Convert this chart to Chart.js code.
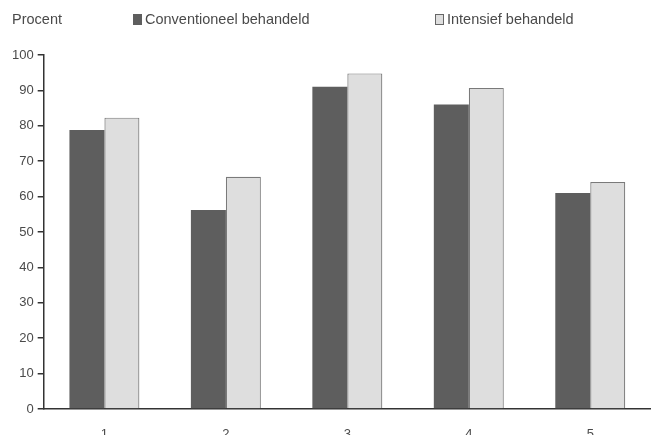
<!DOCTYPE html>
<html>
<head>
<meta charset="utf-8">
<script src="https://cdn.jsdelivr.net/npm/chart.js@4"></script>
<style>
  html, body { margin: 0; padding: 0; background: #fff; overflow: hidden; }
  canvas { display: block; }
</style>
</head>
<body>
<canvas id="barChart" width="651" height="435"></canvas>
<script>
// Categories along the x axis
const categories = ['1', '2', '3', '4', '5'];

// Series values (percent)
const conventioneel = [78.8, 56.2, 91.0, 86.0, 61.0];
const intensief = [82.3, 65.6, 94.8, 90.7, 64.1];

// Series names
const seriesNames = ['Conventioneel behandeld', 'Intensief behandeld'];

// Y axis ticks
const yTicks = [0, 10, 20, 30, 40, 50, 60, 70, 80, 90, 100];
const yUnitLabel = 'Procent';

const textColor = '#4a4a4a';
const fontFamily = '"Liberation Sans", Arial, sans-serif';

// Draws "Procent" and the legend boxes across the top
const topLegend = {
    id: 'topLegend',
    afterDraw(chart) {
        const ctx = chart.ctx;
        ctx.save();
        ctx.font = '14.5px ' + fontFamily;
        ctx.fillStyle = textColor;
        ctx.textBaseline = 'middle';
        ctx.fillText(yUnitLabel, 12, 20);

        const spots = [133, 435];
        chart.data.datasets.forEach((ds, i) => {
            const x = spots[i];
            ctx.fillStyle = ds.backgroundColor;
            ctx.strokeStyle = '#666';
            ctx.lineWidth = 1;
            ctx.fillRect(x, 14, 9, 11);
            if (i === 1) ctx.strokeRect(x + 0.5, 14.5, 8, 10);
            ctx.fillStyle = textColor;
            ctx.fillText(ds.label, x + 12, 20);
        });
        ctx.restore();
    }
};

new Chart(document.getElementById('barChart'), {
    type: 'bar',
    data: {
        labels: categories,
        datasets: [
            {
                label: seriesNames[0],
                data: conventioneel,
                backgroundColor: '#5e5e5e',
                borderColor: '#555555',
                borderWidth: 0
            },
            {
                label: seriesNames[1],
                data: intensief,
                backgroundColor: '#dedede',
                borderColor: '#7a7a7a',
                borderWidth: 1.2
            }
        ]
    },
    options: {
        responsive: false,
        animation: false,
        layout: {
            padding: { top: 55, right: 0, left: 8, bottom: 0 }
        },
        plugins: {
            legend: { display: false },
            tooltip: { enabled: false }
        },
        datasets: {
            bar: {
                barPercentage: 1.0,
                categoryPercentage: 0.576
            }
        },
        scales: {
            x: {
                grid: { display: false, drawTicks: false },
                border: { color: '#333', width: 1.5 },
                ticks: {
                    color: textColor,
                    padding: 18,
                    font: { size: 13, family: fontFamily }
                },
                // labels sit partly below the bottom edge, as in the original
                afterFit(scale) {
                    scale.height = 26;
                }
            },
            y: {
                min: 0,
                max: 100,
                afterBuildTicks(axis) {
                    axis.ticks = yTicks.map(v => ({ value: v }));
                },
                grid: {
                    drawOnChartArea: false,
                    drawTicks: true,
                    tickLength: 6,
                    color: '#333',
                    lineWidth: 1.5
                },
                border: { color: '#333', width: 1.5 },
                ticks: {
                    color: textColor,
                    padding: 4,
                    font: { size: 13, family: fontFamily }
                }
            }
        }
    },
    plugins: [topLegend]
});
</script>
</body>
</html>
